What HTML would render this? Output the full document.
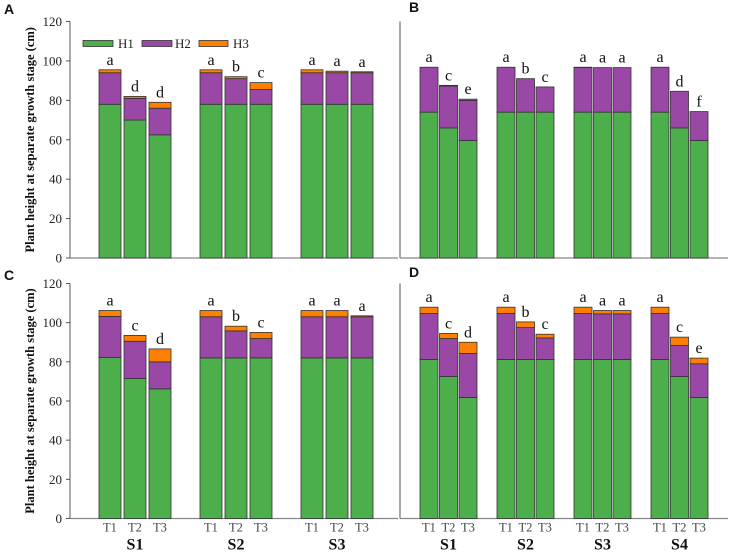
<!DOCTYPE html>
<html><head><meta charset="utf-8"><style>
body{margin:0;background:#fff;width:730px;height:552px;overflow:hidden}
svg{display:block;font-family:"Liberation Serif",serif}
</style></head><body>
<svg id="chart" width="730" height="552"></svg>
<script>
// Panel A data (S1..S3 x T1..T3), cumulative tops
const aH1=[78,70,62.5, 78,78,78, 78,78,78];
const aH2=[94,81,76, 94,91,85.5, 94,94,94];
const aH3=[95.5,82,79, 95.5,92,89, 95.5,94.8,94.5];
const aLet=['a','d','d','a','b','c','a','a','a'];
// Panel B (S1..S4)
const bH1=[74,66,59.6, 74,74,74, 74,74,74, 74,66,59.6];
const bH2=[96.8,87.2,80, 96.8,91,86.8, 96.6,96.6,96.6, 96.8,84.6,74.3];
const bH3=[96.8,87.6,80.6, 96.8,91,86.8, 96.8,96.6,96.6, 96.8,84.6,74.3];
const bLet=['a','c','e','a','b','c','a','a','a','a','d','f'];
// Panel C
const cH1=[82.2,71.5,66.2, 82,82,82, 82,82,82];
const cH2=[103.2,90.5,80, 103,95.8,91.9, 103,103,103];
const cH3=[106.2,93.5,86.6, 106.2,98.2,95, 106.2,106.2,103.5];
const cLet=['a','c','d','a','b','c','a','a','a'];
// Panel D
const dH1=[81.2,72.5,61.8, 81.2,81.2,81.2, 81.2,81.2,81.2, 81.2,72.5,61.8];
const dH2=[104.7,91.9,84.3, 104.7,97.5,92.2, 104.7,104.5,104.5, 104.7,88.4,79];
const dH3=[107.9,94.5,90, 107.9,100.4,94.1, 107.9,106.2,106.2, 107.9,92.6,81.9];
const dLet=['a','c','d','a','b','c','a','a','a','a','c','e'];
const groups3=['S1','S2','S3'];
const groups4=['S1','S2','S3','S4'];
const treats=['T1','T2','T3'];
const yTicks=[0,20,40,60,80,100,120];

const NS='http://www.w3.org/2000/svg';
const svg=document.getElementById('chart');
function mk(tag,attrs,parent){const e=document.createElementNS(NS,tag);for(const k in attrs)e.setAttribute(k,attrs[k]);(parent||svg).appendChild(e);return e;}
const COL={H1:'#4caf4c',H2:'#9a48a6',H3:'#ff8000'};

function panel(o){
  const g=mk('g',{});
  
  
  const y=v=>o.y0-(v/120)*(o.y0-o.y120);
  const ax=mk('line',{x1:o.ax,y1:o.y120,x2:o.ax,y2:o.y0,stroke:'#555','stroke-width':1},g);
  
  
  const bx=mk('line',{x1:o.ax,y1:o.y0,x2:o.axEnd,y2:o.y0,stroke:'#888','stroke-width':1.2},g);
  
  
  if(o.ticks){
    yTicks.forEach(t=>{
      mk('line',{x1:o.ax-4,y1:y(t),x2:o.ax,y2:y(t),stroke:'#555'},g);
      const tx=mk('text',{x:o.ax-8,y:y(t)+4.5,'text-anchor':'end','font-size':13,fill:'#222'},g);
      tx.textContent=t;
      
      
    });
  }
  const n=o.h1.length;
  for(let i=0;i<n;i++){
    const gi=Math.floor(i/3),ti=i%3;
    const x=o.gx0+gi*o.gp+ti*o.bp;
    const segs=[[0,o.h1[i],'H1'],[o.h1[i],o.h2[i],'H2'],[o.h2[i],o.h3[i],'H3']];
    segs.forEach(s=>{
      if(s[1]-s[0]<=0)return;
      const r=mk('rect',{x:x,y:y(s[1]),width:o.bw,height:y(s[0])-y(s[1]),fill:COL[s[2]],stroke:'#333','stroke-width':0.8},g);
      
      
    });
    const l=mk('text',{x:x+o.bw/2,y:y(o.h3[i])-5,'text-anchor':'middle','font-size':16,fill:'#111'},g);
    l.textContent=o.let[i];
    
    
    if(o.xlab){
      const t=mk('text',{x:x+o.bw/2,y:o.y0+13,'text-anchor':'middle','font-size':12.5,fill:'#444'},g);
      t.textContent=treats[ti];
      
      
      if(ti===1){
        const s=mk('text',{x:x+o.bw/2,y:o.y0+31,'text-anchor':'middle','font-size':16,'font-weight':'bold',fill:'#111'},g);
        s.textContent=o.groups[gi];
        
        
      }
    }
  }
  const pl=mk('text',{x:o.lx,y:o.ly,'font-size':14,'font-weight':'bold','font-family':'Liberation Sans, sans-serif',fill:'#111'},g);
  pl.textContent=o.id;
  
  
  if(o.ticks){
    const cy=(o.y0+o.y120)/2;
    const yt=mk('text',{x:31,y:cy,transform:'rotate(-90 31 '+cy+')','text-anchor':'middle','dominant-baseline':'middle','font-size':12.5,'font-weight':'bold',fill:'#111'},g);
    yt.textContent='Plant height at separate growth stage (cm)';
    
    
  }
}
panel({id:'A',ax:70,axEnd:398,y0:258,y120:21.5,ticks:true,h1:aH1,h2:aH2,h3:aH3,let:aLet,groups:groups3,gx0:99,gp:101,bp:25,bw:22,xlab:false,lx:4,ly:14});
panel({id:'B',ax:400,axEnd:728,y0:258,y120:21.5,ticks:false,h1:bH1,h2:bH2,h3:bH3,let:bLet,groups:groups4,gx0:420,gp:77,bp:19.5,bw:18,xlab:false,lx:409,ly:12});
panel({id:'C',ax:70,axEnd:398,y0:518.5,y120:283.5,ticks:true,h1:cH1,h2:cH2,h3:cH3,let:cLet,groups:groups3,gx0:99,gp:101,bp:25,bw:22,xlab:true,lx:4,ly:280});
panel({id:'D',ax:400,axEnd:728,y0:518.5,y120:283.5,ticks:false,h1:dH1,h2:dH2,h3:dH3,let:dLet,groups:groups4,gx0:420,gp:77,bp:19.5,bw:18,xlab:true,lx:409,ly:277});
// legend
const leg=[['H1',83,113,118],['H2',142,172,175],['H3',199,228,233]];
leg.forEach(l=>{
  const r=mk('rect',{x:l[1],y:40.5,width:l[2]-l[1],height:6,fill:COL[l[0]],stroke:'#333','stroke-width':0.8});
  
  
  const t=mk('text',{x:l[3],y:48,'font-size':13,fill:'#222'});
  t.textContent=l[0];
  
  
});
</script>
</body></html>
